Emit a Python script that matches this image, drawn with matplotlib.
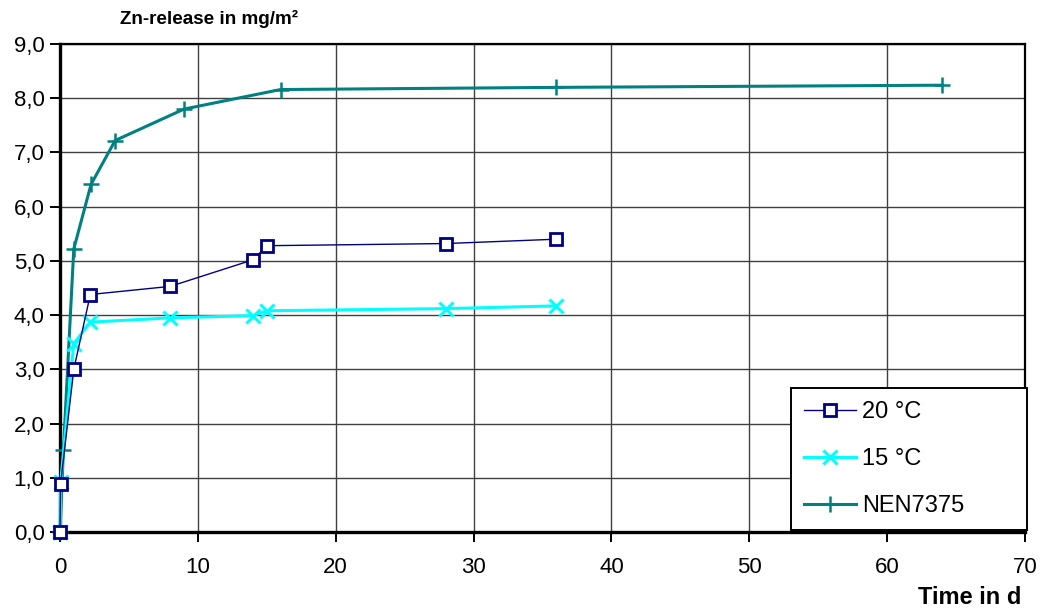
import matplotlib
matplotlib.use("Agg")
import matplotlib.pyplot as plt
from matplotlib.ticker import FuncFormatter, MultipleLocator

plt.rcParams['font.family'] = ['Liberation Sans', 'DejaVu Sans']

# Zn release over time for three test conditions
t_20 = [0, 0.04, 1.0, 2.2, 8.0, 14.0, 15.0, 28.0, 36.0]
zn_20 = [0.0, 0.88, 3.0, 4.38, 4.53, 5.02, 5.28, 5.32, 5.40]

t_15 = [0, 0.05, 1.0, 2.2, 8.0, 14.0, 15.0, 28.0, 36.0]
zn_15 = [0.0, 0.92, 3.47, 3.87, 3.95, 3.99, 4.08, 4.12, 4.17]

t_nen = [0, 0.25, 1.0, 2.25, 4.0, 9.0, 16.0, 36.0, 64.0]
zn_nen = [0.0, 1.52, 5.22, 6.41, 7.22, 7.80, 8.16, 8.20, 8.24]

labels = ['20 °C', '15 °C', 'NEN7375']

fig = plt.figure(figsize=(10.44, 6.12), dpi=100)
ax = fig.add_axes([60 / 1044, 1 - 532 / 612, 965 / 1044, 488 / 612])

ax.plot(t_20, zn_20, color='#000080', lw=1.0, marker='s', ms=8,
        mfc='white', mec='#000080', mew=2, label=labels[0], zorder=5,
        clip_on=False)
ax.plot(t_15, zn_15, color='#00FFFF', lw=2.2, marker='x', ms=10,
        mew=2.2, label=labels[1], zorder=4, clip_on=False)
ax.plot(t_nen, zn_nen, color='#008080', lw=2.2, marker='+', ms=11,
        mew=1.8, label=labels[2], zorder=3, clip_on=False)

ax.set_xlim(0, 70)
ax.set_ylim(0, 9)
ax.xaxis.set_major_locator(MultipleLocator(10))
ax.yaxis.set_major_locator(MultipleLocator(1))
ax.yaxis.set_major_formatter(FuncFormatter(lambda v, p: f"{v:.1f}".replace('.', ',')))
ax.grid(True, color='#404040', lw=1.0)
ax.set_axisbelow(True)

for side in ['top', 'right']:
    ax.spines[side].set_linewidth(1.6)
for side in ['left', 'bottom']:
    ax.spines[side].set_linewidth(2.4)
for s in ax.spines.values():
    s.set_color('black')

ax.tick_params(axis='both', direction='out', length=7, width=1.4, labelsize=16,
               colors='black')
ax.tick_params(axis='y', pad=4)
ax.tick_params(axis='x', pad=11)

fig.text(120 / 1044, 1 - 19 / 612, 'Zn-release in mg/m²', fontsize=13.6,
         fontweight='bold', va='center', ha='left')
fig.text(1021 / 1044, 1 - 597 / 612, 'Time in d', fontsize=17,
         fontweight='bold', va='center', ha='right')

leg = ax.legend(loc='lower left',
                bbox_to_anchor=((791 - 60) / 965, 0.004, (1027 - 791) / 965, 0.28),
                mode='expand', fontsize=17, frameon=True, fancybox=False,
                edgecolor='black', borderpad=0.55, labelspacing=1.05,
                handlelength=2.2, handletextpad=0.25, borderaxespad=0.0)
leg.get_frame().set_linewidth(1.4)
leg.get_frame().set_facecolor('white')
leg.get_frame().set_alpha(1)

fig.savefig('out.png', dpi=100)
